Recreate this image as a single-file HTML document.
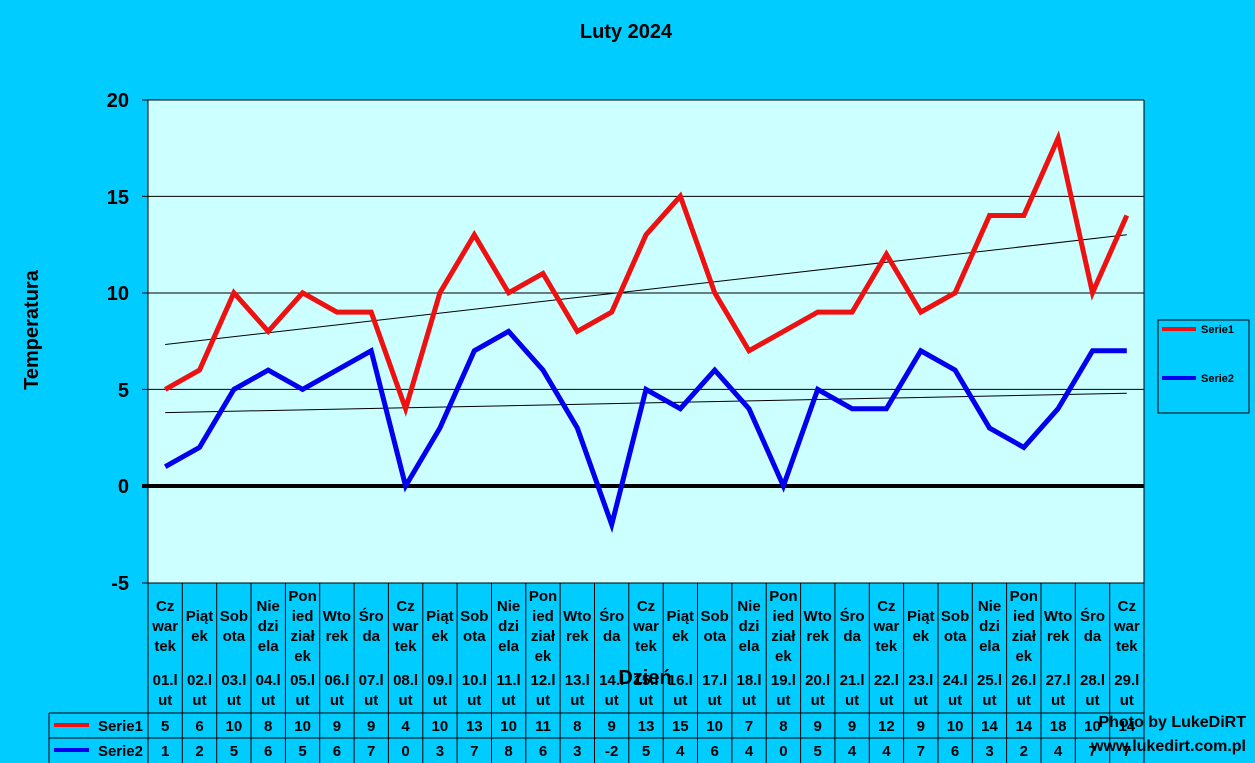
<!DOCTYPE html>
<html><head><meta charset="utf-8"><style>
body{margin:0;background:#00ccff;}
svg{display:block;font-family:"Liberation Sans",Arial,sans-serif;font-weight:bold;}
</style></head><body>
<svg width="1255" height="763" viewBox="0 0 1255 763" xmlns="http://www.w3.org/2000/svg">
<rect width="1255" height="763" fill="#00ccff"/>
<text x="626" y="38" font-size="20" text-anchor="middle" fill="#000">Luty 2024</text>
<rect x="148" y="100" width="996" height="483" fill="#ccffff"/>
<g stroke="#000" stroke-width="1">
<line x1="142" y1="100" x2="1144" y2="100"/>
<line x1="142" y1="196.4" x2="1144" y2="196.4"/>
<line x1="142" y1="293" x2="1144" y2="293"/>
<line x1="142" y1="389.4" x2="1144" y2="389.4"/>
<line x1="142" y1="583" x2="1144" y2="583"/>
<line x1="148" y1="100" x2="148" y2="763"/>
<line x1="1144" y1="100" x2="1144" y2="583"/>
</g>
<line x1="142" y1="486" x2="1144" y2="486" stroke="#000" stroke-width="4"/>
<g font-size="20" text-anchor="end" fill="#000">
<text x="129" y="107">20</text><text x="129" y="204">15</text><text x="129" y="300">10</text><text x="129" y="397">5</text><text x="129" y="493">0</text><text x="129" y="590">-5</text>
</g>
<text transform="translate(38,330) rotate(-90)" font-size="20" text-anchor="middle">Temperatura</text>
<line x1="165.2" y1="344.5" x2="1126.8" y2="234.8" stroke="#000" stroke-width="1"/>
<line x1="165.2" y1="412.6" x2="1126.8" y2="393.3" stroke="#000" stroke-width="1"/>
<polyline fill="none" stroke="#ee1111" stroke-width="5" stroke-linejoin="miter" points="165.2,389.4 199.5,370.1 233.9,292.8 268.2,331.4 302.6,292.8 336.9,312.1 371.2,312.1 405.6,408.7 439.9,292.8 474.3,234.8 508.6,292.8 543,273.5 577.3,331.4 611.7,312.1 646,234.8 680.3,196.2 714.7,292.8 749,350.8 783.4,331.4 817.7,312.1 852.1,312.1 886.4,254.2 920.8,312.1 955.1,292.8 989.5,215.5 1023.8,215.5 1058.1,138.2 1092.5,292.8 1126.8,215.5"/>
<polyline fill="none" stroke="#0000ee" stroke-width="5" points="165.2,466.7 199.5,447.4 233.9,389.4 268.2,370.1 302.6,389.4 336.9,370.1 371.2,350.8 405.6,486 439.9,428 474.3,350.8 508.6,331.4 543,370.1 577.3,428 611.7,524.6 646,389.4 680.3,408.7 714.7,370.1 749,408.7 783.4,486 817.7,389.4 852.1,408.7 886.4,408.7 920.8,350.8 955.1,370.1 989.5,428 1023.8,447.4 1058.1,408.7 1092.5,350.8 1126.8,350.8"/>
<rect x="1158" y="320" width="91" height="93" fill="none" stroke="#000"/>
<line x1="1162" y1="329" x2="1196" y2="329" stroke="#ee1111" stroke-width="4"/>
<text x="1201" y="333" font-size="11">Serie1</text>
<line x1="1162" y1="378" x2="1196" y2="378" stroke="#0000ee" stroke-width="4"/>
<text x="1201" y="382" font-size="11">Serie2</text>
<g stroke="#000" stroke-width="1">
<line x1="49" y1="713" x2="1144" y2="713"/><line x1="49" y1="738" x2="1144" y2="738"/>
<line x1="49" y1="713" x2="49" y2="763"/>
<line x1="182.3" y1="583" x2="182.3" y2="763"/><line x1="216.7" y1="583" x2="216.7" y2="763"/><line x1="251" y1="583" x2="251" y2="763"/><line x1="285.4" y1="583" x2="285.4" y2="763"/><line x1="319.7" y1="583" x2="319.7" y2="763"/><line x1="354.1" y1="583" x2="354.1" y2="763"/><line x1="388.4" y1="583" x2="388.4" y2="763"/><line x1="422.8" y1="583" x2="422.8" y2="763"/><line x1="457.1" y1="583" x2="457.1" y2="763"/><line x1="491.5" y1="583" x2="491.5" y2="763"/><line x1="525.8" y1="583" x2="525.8" y2="763"/><line x1="560.1" y1="583" x2="560.1" y2="763"/><line x1="594.5" y1="583" x2="594.5" y2="763"/><line x1="628.8" y1="583" x2="628.8" y2="763"/><line x1="663.2" y1="583" x2="663.2" y2="763"/><line x1="697.5" y1="583" x2="697.5" y2="763"/><line x1="731.9" y1="583" x2="731.9" y2="763"/><line x1="766.2" y1="583" x2="766.2" y2="763"/><line x1="800.6" y1="583" x2="800.6" y2="763"/><line x1="834.9" y1="583" x2="834.9" y2="763"/><line x1="869.3" y1="583" x2="869.3" y2="763"/><line x1="903.6" y1="583" x2="903.6" y2="763"/><line x1="938" y1="583" x2="938" y2="763"/><line x1="972.3" y1="583" x2="972.3" y2="763"/><line x1="1006.6" y1="583" x2="1006.6" y2="763"/><line x1="1041" y1="583" x2="1041" y2="763"/><line x1="1075.3" y1="583" x2="1075.3" y2="763"/><line x1="1109.7" y1="583" x2="1109.7" y2="763"/><line x1="1144" y1="583" x2="1144" y2="763"/>
</g>
<line x1="54" y1="725" x2="89" y2="725" stroke="#ee1111" stroke-width="4"/>
<text x="143" y="731" font-size="15" text-anchor="end">Serie1</text>
<line x1="54" y1="750" x2="89" y2="750" stroke="#0000ee" stroke-width="4"/>
<text x="143" y="756" font-size="15" text-anchor="end">Serie2</text>
<text x="645" y="684" font-size="20" text-anchor="middle">Dzień</text>
<g font-size="15" text-anchor="middle" fill="#000">
<text x="165.2"><tspan x="165.2" y="611">Cz</tspan><tspan x="165.2" y="631">war</tspan><tspan x="165.2" y="651">tek</tspan><tspan x="165.2" y="685">01.l</tspan><tspan x="165.2" y="705">ut</tspan><tspan x="165.2" y="731">5</tspan><tspan x="165.2" y="756">1</tspan></text>
<text><tspan x="199.5" y="621">Piąt</tspan><tspan x="199.5" y="641">ek</tspan><tspan x="199.5" y="685">02.l</tspan><tspan x="199.5" y="705">ut</tspan><tspan x="199.5" y="731">6</tspan><tspan x="199.5" y="756">2</tspan></text>
<text><tspan x="233.9" y="621">Sob</tspan><tspan x="233.9" y="641">ota</tspan><tspan x="233.9" y="685">03.l</tspan><tspan x="233.9" y="705">ut</tspan><tspan x="233.9" y="731">10</tspan><tspan x="233.9" y="756">5</tspan></text>
<text><tspan x="268.2" y="611">Nie</tspan><tspan x="268.2" y="631">dzi</tspan><tspan x="268.2" y="651">ela</tspan><tspan x="268.2" y="685">04.l</tspan><tspan x="268.2" y="705">ut</tspan><tspan x="268.2" y="731">8</tspan><tspan x="268.2" y="756">6</tspan></text>
<text><tspan x="302.6" y="601">Pon</tspan><tspan x="302.6" y="621">ied</tspan><tspan x="302.6" y="641">ział</tspan><tspan x="302.6" y="661">ek</tspan><tspan x="302.6" y="685">05.l</tspan><tspan x="302.6" y="705">ut</tspan><tspan x="302.6" y="731">10</tspan><tspan x="302.6" y="756">5</tspan></text>
<text><tspan x="336.9" y="621">Wto</tspan><tspan x="336.9" y="641">rek</tspan><tspan x="336.9" y="685">06.l</tspan><tspan x="336.9" y="705">ut</tspan><tspan x="336.9" y="731">9</tspan><tspan x="336.9" y="756">6</tspan></text>
<text><tspan x="371.2" y="621">Śro</tspan><tspan x="371.2" y="641">da</tspan><tspan x="371.2" y="685">07.l</tspan><tspan x="371.2" y="705">ut</tspan><tspan x="371.2" y="731">9</tspan><tspan x="371.2" y="756">7</tspan></text>
<text><tspan x="405.6" y="611">Cz</tspan><tspan x="405.6" y="631">war</tspan><tspan x="405.6" y="651">tek</tspan><tspan x="405.6" y="685">08.l</tspan><tspan x="405.6" y="705">ut</tspan><tspan x="405.6" y="731">4</tspan><tspan x="405.6" y="756">0</tspan></text>
<text><tspan x="439.9" y="621">Piąt</tspan><tspan x="439.9" y="641">ek</tspan><tspan x="439.9" y="685">09.l</tspan><tspan x="439.9" y="705">ut</tspan><tspan x="439.9" y="731">10</tspan><tspan x="439.9" y="756">3</tspan></text>
<text><tspan x="474.3" y="621">Sob</tspan><tspan x="474.3" y="641">ota</tspan><tspan x="474.3" y="685">10.l</tspan><tspan x="474.3" y="705">ut</tspan><tspan x="474.3" y="731">13</tspan><tspan x="474.3" y="756">7</tspan></text>
<text><tspan x="508.6" y="611">Nie</tspan><tspan x="508.6" y="631">dzi</tspan><tspan x="508.6" y="651">ela</tspan><tspan x="508.6" y="685">11.l</tspan><tspan x="508.6" y="705">ut</tspan><tspan x="508.6" y="731">10</tspan><tspan x="508.6" y="756">8</tspan></text>
<text><tspan x="543" y="601">Pon</tspan><tspan x="543" y="621">ied</tspan><tspan x="543" y="641">ział</tspan><tspan x="543" y="661">ek</tspan><tspan x="543" y="685">12.l</tspan><tspan x="543" y="705">ut</tspan><tspan x="543" y="731">11</tspan><tspan x="543" y="756">6</tspan></text>
<text><tspan x="577.3" y="621">Wto</tspan><tspan x="577.3" y="641">rek</tspan><tspan x="577.3" y="685">13.l</tspan><tspan x="577.3" y="705">ut</tspan><tspan x="577.3" y="731">8</tspan><tspan x="577.3" y="756">3</tspan></text>
<text><tspan x="611.7" y="621">Śro</tspan><tspan x="611.7" y="641">da</tspan><tspan x="611.7" y="685">14.l</tspan><tspan x="611.7" y="705">ut</tspan><tspan x="611.7" y="731">9</tspan><tspan x="611.7" y="756">-2</tspan></text>
<text><tspan x="646" y="611">Cz</tspan><tspan x="646" y="631">war</tspan><tspan x="646" y="651">tek</tspan><tspan x="646" y="685">15.l</tspan><tspan x="646" y="705">ut</tspan><tspan x="646" y="731">13</tspan><tspan x="646" y="756">5</tspan></text>
<text><tspan x="680.3" y="621">Piąt</tspan><tspan x="680.3" y="641">ek</tspan><tspan x="680.3" y="685">16.l</tspan><tspan x="680.3" y="705">ut</tspan><tspan x="680.3" y="731">15</tspan><tspan x="680.3" y="756">4</tspan></text>
<text><tspan x="714.7" y="621">Sob</tspan><tspan x="714.7" y="641">ota</tspan><tspan x="714.7" y="685">17.l</tspan><tspan x="714.7" y="705">ut</tspan><tspan x="714.7" y="731">10</tspan><tspan x="714.7" y="756">6</tspan></text>
<text><tspan x="749" y="611">Nie</tspan><tspan x="749" y="631">dzi</tspan><tspan x="749" y="651">ela</tspan><tspan x="749" y="685">18.l</tspan><tspan x="749" y="705">ut</tspan><tspan x="749" y="731">7</tspan><tspan x="749" y="756">4</tspan></text>
<text><tspan x="783.4" y="601">Pon</tspan><tspan x="783.4" y="621">ied</tspan><tspan x="783.4" y="641">ział</tspan><tspan x="783.4" y="661">ek</tspan><tspan x="783.4" y="685">19.l</tspan><tspan x="783.4" y="705">ut</tspan><tspan x="783.4" y="731">8</tspan><tspan x="783.4" y="756">0</tspan></text>
<text><tspan x="817.7" y="621">Wto</tspan><tspan x="817.7" y="641">rek</tspan><tspan x="817.7" y="685">20.l</tspan><tspan x="817.7" y="705">ut</tspan><tspan x="817.7" y="731">9</tspan><tspan x="817.7" y="756">5</tspan></text>
<text><tspan x="852.1" y="621">Śro</tspan><tspan x="852.1" y="641">da</tspan><tspan x="852.1" y="685">21.l</tspan><tspan x="852.1" y="705">ut</tspan><tspan x="852.1" y="731">9</tspan><tspan x="852.1" y="756">4</tspan></text>
<text><tspan x="886.4" y="611">Cz</tspan><tspan x="886.4" y="631">war</tspan><tspan x="886.4" y="651">tek</tspan><tspan x="886.4" y="685">22.l</tspan><tspan x="886.4" y="705">ut</tspan><tspan x="886.4" y="731">12</tspan><tspan x="886.4" y="756">4</tspan></text>
<text><tspan x="920.8" y="621">Piąt</tspan><tspan x="920.8" y="641">ek</tspan><tspan x="920.8" y="685">23.l</tspan><tspan x="920.8" y="705">ut</tspan><tspan x="920.8" y="731">9</tspan><tspan x="920.8" y="756">7</tspan></text>
<text><tspan x="955.1" y="621">Sob</tspan><tspan x="955.1" y="641">ota</tspan><tspan x="955.1" y="685">24.l</tspan><tspan x="955.1" y="705">ut</tspan><tspan x="955.1" y="731">10</tspan><tspan x="955.1" y="756">6</tspan></text>
<text><tspan x="989.5" y="611">Nie</tspan><tspan x="989.5" y="631">dzi</tspan><tspan x="989.5" y="651">ela</tspan><tspan x="989.5" y="685">25.l</tspan><tspan x="989.5" y="705">ut</tspan><tspan x="989.5" y="731">14</tspan><tspan x="989.5" y="756">3</tspan></text>
<text><tspan x="1023.8" y="601">Pon</tspan><tspan x="1023.8" y="621">ied</tspan><tspan x="1023.8" y="641">ział</tspan><tspan x="1023.8" y="661">ek</tspan><tspan x="1023.8" y="685">26.l</tspan><tspan x="1023.8" y="705">ut</tspan><tspan x="1023.8" y="731">14</tspan><tspan x="1023.8" y="756">2</tspan></text>
<text><tspan x="1058.1" y="621">Wto</tspan><tspan x="1058.1" y="641">rek</tspan><tspan x="1058.1" y="685">27.l</tspan><tspan x="1058.1" y="705">ut</tspan><tspan x="1058.1" y="731">18</tspan><tspan x="1058.1" y="756">4</tspan></text>
<text><tspan x="1092.5" y="621">Śro</tspan><tspan x="1092.5" y="641">da</tspan><tspan x="1092.5" y="685">28.l</tspan><tspan x="1092.5" y="705">ut</tspan><tspan x="1092.5" y="731">10</tspan><tspan x="1092.5" y="756">7</tspan></text>
<text><tspan x="1126.8" y="611">Cz</tspan><tspan x="1126.8" y="631">war</tspan><tspan x="1126.8" y="651">tek</tspan><tspan x="1126.8" y="685">29.l</tspan><tspan x="1126.8" y="705">ut</tspan><tspan x="1126.8" y="731">14</tspan><tspan x="1126.8" y="756">7</tspan></text>
</g>
<text x="1246" y="727" font-size="16" text-anchor="end">Photo by LukeDiRT</text>
<text x="1246" y="751" font-size="16" text-anchor="end">www.lukedirt.com.pl</text>
</svg>
</body></html>
